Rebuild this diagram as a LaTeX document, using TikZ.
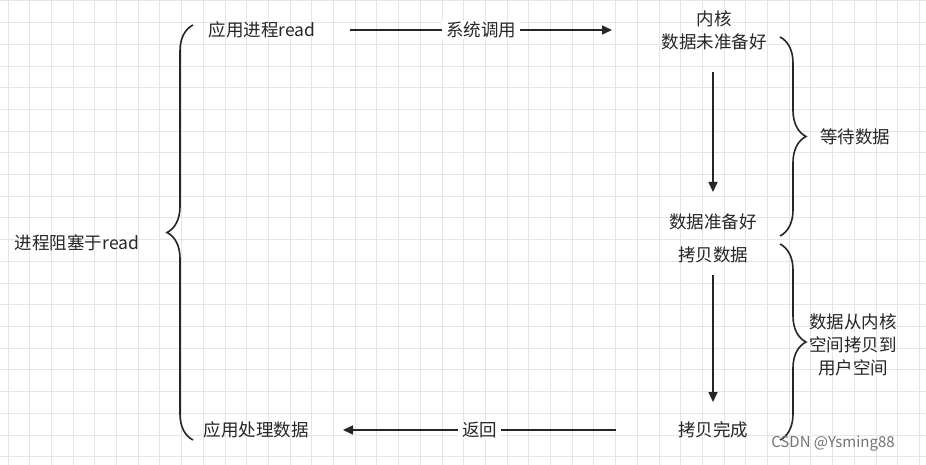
\documentclass[tikz,border=0pt]{standalone}
\usepackage{fontspec}
\setmainfont{Noto Sans CJK SC}
\usetikzlibrary{decorations.pathreplacing,arrows.meta}
\begin{document}
\begin{tikzpicture}[x=1pt,y=-1pt,
  lbl/.style={font=\fontsize{17.5}{23}\selectfont,text=black!85,align=center,inner sep=1pt},
  arr/.style={draw=black!85,line width=1.5pt,-{Triangle[length=10pt,width=9pt]}},
  br/.style={draw=black!85,line width=1.6pt,decorate,decoration={brace,amplitude=26pt}}]
\useasboundingbox (0,0) rectangle (926,465);
\fill[white] (0,0) rectangle (926,465);
\foreach \i in {0,...,42} \draw[black!10,line width=1pt] ({8+21.7*\i},0) -- ({8+21.7*\i},465);
\foreach \j in {0,...,21} \draw[black!10,line width=1pt] (0,{1+21.7*\j}) -- (926,{1+21.7*\j});
\node[lbl] (app) at (262,30) {应用进程read};
\node[lbl] (k1) at (714,30) {内核\\数据未准备好};
\node[lbl] (rdy) at (713,222) {数据准备好};
\node[lbl] (cp) at (713,255) {拷贝数据};
\node[lbl] (done) at (713,430) {拷贝完成};
\node[lbl] (proc) at (256,430) {应用处理数据};
\node[lbl] (blk) at (77,243) {进程阻塞于read};
\node[lbl] (wait) at (855,137) {等待数据};
\node[lbl] (copy) at (853,345) {数据从内核\\空间拷贝到\\用户空间};
\coordinate (a1s) at (350,30); \coordinate (a1e) at (612,30);
\draw[arr] (a1s) -- node[lbl,fill=white,inner xsep=4pt] {系统调用} (a1e);
\coordinate (a2s) at (713,72); \coordinate (a2e) at (713,192);
\draw[arr] (a2s) -- (a2e);
\coordinate (a3s) at (713,275); \coordinate (a3e) at (713,402);
\draw[arr] (a3s) -- (a3e);
\coordinate (a4s) at (616,430); \coordinate (a4e) at (343,430);
\draw[arr] (a4s) -- node[lbl,fill=white,inner xsep=4pt] {返回} (a4e);
\draw[br] (193,440) -- (193,25);
\draw[br] (780,37) -- (780,236);
\draw[br] (780,244) -- (780,440);
\node[font=\fontsize{15}{17}\selectfont,text=black!55] (wm) at (833,444) {CSDN @Ysming88};
\end{tikzpicture}
\end{document}
